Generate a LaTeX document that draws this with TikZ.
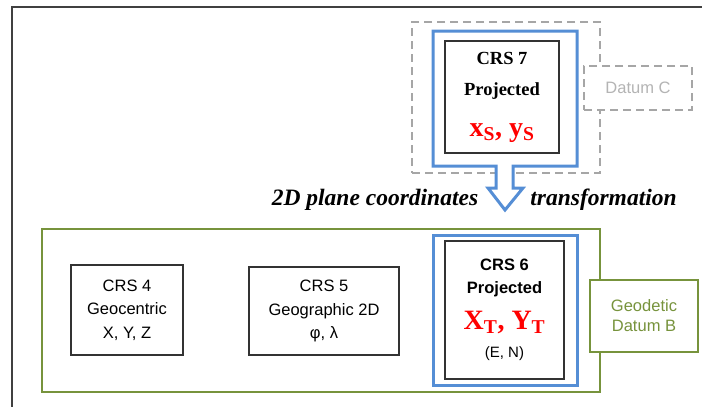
\documentclass[tikz,border=0pt]{standalone}
\usepackage{fontspec}
\setmainfont{Liberation Serif}
\setsansfont{Liberation Sans}
\usepackage{xcolor}
\definecolor{CBlue}{HTML}{558ED5}
\definecolor{CGreen}{HTML}{77933C}
\definecolor{CGrey}{HTML}{A6A6A6}
\definecolor{CGreyText}{HTML}{B4B4B4}
\definecolor{CFrame}{HTML}{404040}
\usepackage{tikz}
\usetikzlibrary{positioning}
\tikzstyle{crsNode}=[rectangle, draw=black!80, line width=1.2pt, fill=white, align=center,
  inner sep=0pt, font=\sffamily\fontsize{16.5}{23.5}\selectfont]
\tikzstyle{projNode}=[rectangle, draw=CBlue, line width=3pt, fill=white, inner sep=0pt]
\tikzstyle{datumNode}=[rectangle, draw=CGreen, line width=2.8pt, fill=white, inner sep=0pt,
  align=center, text=CGreen, font=\sffamily\fontsize{16.5}{20}\selectfont]
\tikzstyle{ghostNode}=[rectangle, draw=CGrey, dash pattern=on 8pt off 5pt, line width=2pt,
  fill=white, inner sep=0pt, align=center, text=CGreyText, font=\sffamily\fontsize{16.5}{20}\selectfont]
\tikzstyle{italNode}=[inner sep=0pt, font=\rmfamily\bfseries\itshape\fontsize{23.5}{26}\selectfont]

\begin{document}
\begin{tikzpicture}[x=1pt, y=-1pt]
\useasboundingbox (0,0) rectangle (702,407);
% outer frame
\draw[CFrame, line width=2pt] (12,408) -- (12,7) -- (703,7);
% datum C with CRS 7
\node[ghostNode, minimum width=188pt, minimum height=151pt] (ghostFrame) at (506,97.5) {};
\node[ghostNode, minimum width=108pt, minimum height=44pt] (datumC) at (638,88) {Datum C};
\draw[CBlue, line width=3pt, fill=white] (433,166) -- (433,31) -- (577,31) -- (577,166)
  -- (513,166) -- (513,188) -- (523,188) -- (505,210) -- (488,188) -- (496,188)
  -- (496,166) -- cycle;
\node[crsNode, minimum width=114pt, minimum height=112pt,
  font=\rmfamily\bfseries\fontsize{18.5}{31}\selectfont] (crs7) at (502,97)
  {CRS 7\\Projected\\[10pt]{\color{red}\fontsize{28}{30}\selectfont x\textsubscript{S}, y\textsubscript{S}}};
\node[italNode] (planeTxt) at (375,200) {2D plane coordinates};
\node[italNode] (transTxt) at (603.5,200) {transformation};
% datum B
\node[datumNode, minimum width=558pt, minimum height=163pt] (datumFrame) at (321,310.5) {};
\node[datumNode, minimum width=108pt, minimum height=72pt] (datumB) at (644,316) {Geodetic\\Datum B};
\node[crsNode, minimum width=112pt, minimum height=90pt] (crs4) at (127,310) {CRS 4\\Geocentric\\X, Y, Z};
\node[crsNode, minimum width=150pt, minimum height=88pt] (crs5) at (324,311) {CRS 5\\Geographic 2D\\φ, λ};
\node[projNode, minimum width=144pt, minimum height=150pt] (proj6) at (505,310) {};
\node[crsNode, minimum width=119pt, minimum height=138pt] (crs6) at (504.5,310)
  {\bfseries CRS 6\\\bfseries Projected\\[12pt]{\color{red}\rmfamily\bfseries\fontsize{28}{30}\selectfont X\textsubscript{T}, Y\textsubscript{T}}\\[5pt]\fontsize{15}{20}\selectfont (E, N)};
\end{tikzpicture}
\end{document}
